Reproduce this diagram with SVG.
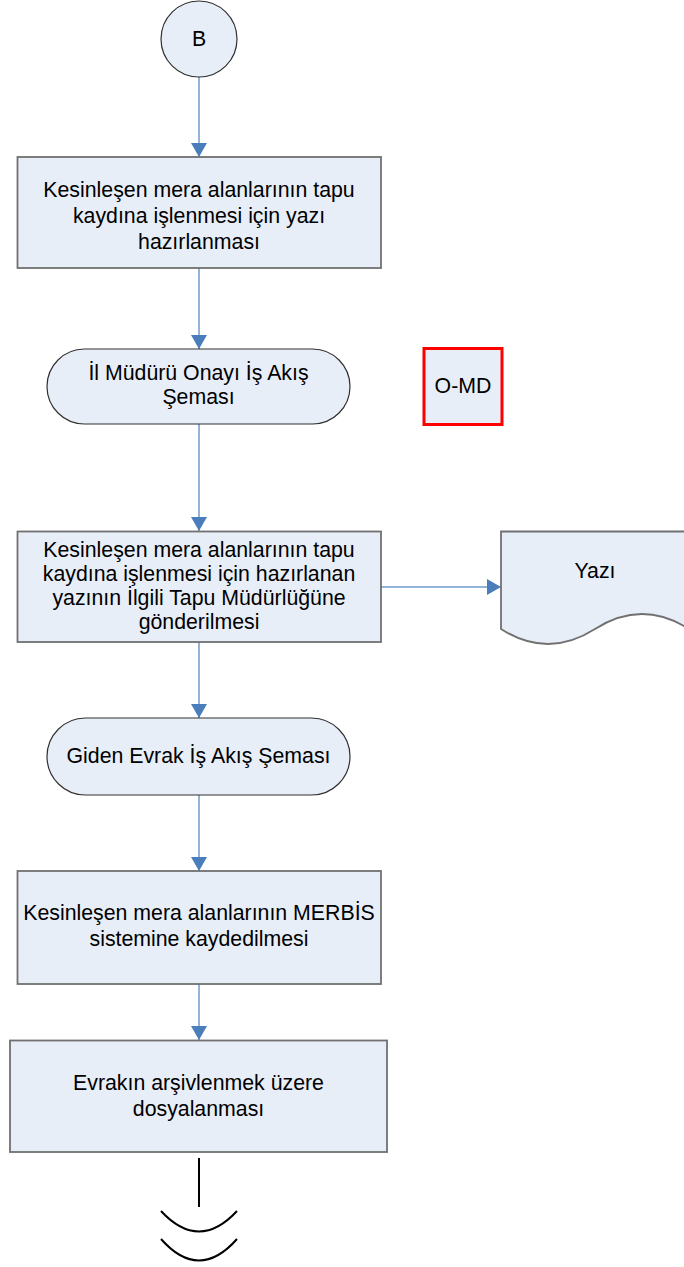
<svg xmlns="http://www.w3.org/2000/svg" width="684" height="1267" viewBox="0 0 684 1267">
<style>
.box{fill:#e8eef7;stroke:#707070;stroke-width:1.8}
.term{fill:#e8eef7;stroke:#303030;stroke-width:1.2}
.omd{fill:#e8eef7;stroke:#ff0000;stroke-width:3}
.t{font-family:"Liberation Sans",Arial,sans-serif;font-size:21.3px;fill:#000;text-anchor:middle}
.c{fill:none;stroke:#95b3d7;stroke-width:2}
.end{fill:none;stroke:#000;stroke-width:2}
</style>
<defs>
<marker id="ah" markerUnits="userSpaceOnUse" markerWidth="14" markerHeight="16" refX="14" refY="8" orient="auto" viewBox="0 0 14 16">
<path d="M0,0 L14,8 L0,16 z" fill="#4a7ebb"/>
</marker>
</defs>
<rect width="684" height="1267" fill="#fff"/>
<g id="connectors">
<line class="c" x1="199" y1="77" x2="199" y2="157" marker-end="url(#ah)"/>
<line class="c" x1="199" y1="268" x2="199" y2="349" marker-end="url(#ah)"/>
<line class="c" x1="199" y1="424" x2="199" y2="531" marker-end="url(#ah)"/>
<line class="c" x1="381" y1="587" x2="501" y2="587" marker-end="url(#ah)"/>
<line class="c" x1="199" y1="642" x2="199" y2="718" marker-end="url(#ah)"/>
<line class="c" x1="199" y1="795" x2="199" y2="871" marker-end="url(#ah)"/>
<line class="c" x1="199" y1="984" x2="199" y2="1040" marker-end="url(#ah)"/>
</g>
<g id="start">
<circle cx="199" cy="39" r="38" class="term"/>
<text class="t" x="199" y="46">B</text>
</g>
<g id="n1">
<rect class="box" x="17.5" y="157" width="363.5" height="111"/>
<text class="t" x="199" y="197">Kesinleşen mera alanlarının tapu</text>
<text class="t" x="199" y="223">kaydına işlenmesi için yazı</text>
<text class="t" x="199" y="249">hazırlanması</text>
</g>
<g id="n2">
<rect class="term" x="47" y="349" width="303" height="75" rx="37.5" ry="37.5"/>
<text class="t" x="198.5" y="380">İl Müdürü Onayı İş Akış</text>
<text class="t" x="198.5" y="404">Şeması</text>
</g>
<g id="omd">
<rect class="omd" x="424" y="348.5" width="78" height="76"/>
<text class="t" x="463" y="393">O-MD</text>
</g>
<g id="n3">
<rect class="box" x="17.5" y="531.5" width="363.5" height="110.5"/>
<text class="t" x="199" y="557">Kesinleşen mera alanlarının tapu</text>
<text class="t" x="199" y="581">kaydına işlenmesi için hazırlanan</text>
<text class="t" x="199" y="605">yazının İlgili Tapu Müdürlüğüne</text>
<text class="t" x="199" y="629">gönderilmesi</text>
</g>
<g id="doc">
<path class="box" d="M501,531.5 L689,531.5 L689,629 Q642,599 595,629 Q548,659 501,629 Z"/>
<text class="t" x="595" y="578">Yazı</text>
</g>
<g id="n4">
<rect class="term" x="47" y="718" width="303" height="77" rx="38.5" ry="38.5"/>
<text class="t" x="198.5" y="763">Giden Evrak İş Akış Şeması</text>
</g>
<g id="n5">
<rect class="box" x="17.5" y="871" width="363.5" height="113"/>
<text class="t" x="199" y="920">Kesinleşen mera alanlarının MERBİS</text>
<text class="t" x="199" y="946">sistemine kaydedilmesi</text>
</g>
<g id="n6">
<rect class="box" x="10" y="1040.5" width="377" height="111.5"/>
<text class="t" x="198.5" y="1090">Evrakın arşivlenmek üzere</text>
<text class="t" x="198.5" y="1116">dosyalanması</text>
</g>
<g id="offpage">
<line class="end" x1="199" y1="1158" x2="199" y2="1207"/>
<path class="end" d="M161,1211 Q199,1252 237,1211"/>
<path class="end" d="M161,1239 Q199,1282 237,1239"/>
</g>
</svg>
